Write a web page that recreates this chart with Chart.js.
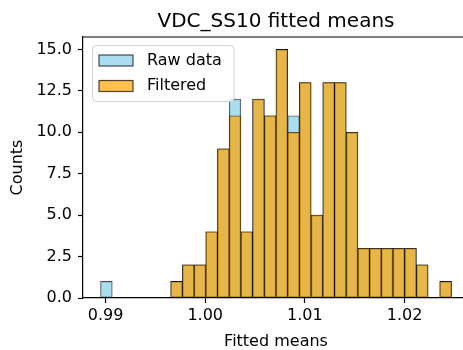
<!DOCTYPE html>
<html>
<head>
<meta charset="utf-8">
<script src="https://cdn.jsdelivr.net/npm/chart.js@4"></script>
<style>
  html, body { margin: 0; padding: 0; background: #fff; overflow: hidden; }
  #wrap { width: 463px; height: 350px; overflow: hidden; }
</style>
</head>
<body>
<div id="wrap"><canvas id="histChart" width="470" height="350"></canvas></div>
<script>
// histogram bins (numpy style: 30 equal bins between min and max)
const binStart = 0.98950;
const binWidth = 0.0011737;
const rawCounts = [1, 0, 0, 0, 0, 0, 1, 2, 2, 4, 9, 12, 4, 12, 11, 15, 11, 13, 5, 13, 13, 10, 3, 3, 3, 3, 3, 2, 0, 1];
const filteredCounts = [0, 0, 0, 0, 0, 0, 1, 2, 2, 4, 9, 11, 4, 12, 11, 15, 10, 13, 5, 13, 13, 10, 3, 3, 3, 3, 3, 2, 0, 1];
const seriesNames = ['Raw data', 'Filtered'];
const xTicks = [0.99, 1.00, 1.01, 1.02];
const yTicks = [0, 2.5, 5, 7.5, 10, 12.5, 15];

const family = "'DejaVu Sans', sans-serif";
const binCenters = rawCounts.map((_, i) => binStart + (i + 0.5) * binWidth);
const toPoints = counts => counts.map((c, i) => ({ x: binCenters[i], y: c }));

const framePlugin = {
    id: 'frame',
    afterDatasetsDraw(chart) {
        const { ctx, chartArea: a } = chart;
        ctx.save();
        // top spine (right one falls outside the cropped picture)
        ctx.strokeStyle = '#000';
        ctx.lineWidth = 1.2;
        ctx.beginPath();
        ctx.moveTo(a.left, a.top);
        ctx.lineTo(a.right, a.top);
        ctx.stroke();

        // legend box, upper left inside the axes
        const bx = 92.5, by = 45.5, bw = 141.5, bh = 56;
        ctx.beginPath();
        ctx.roundRect(bx, by, bw, bh, 4);
        ctx.fillStyle = 'rgba(255,255,255,0.8)';
        ctx.fill();
        ctx.strokeStyle = '#d0d0d0';
        ctx.lineWidth = 1;
        ctx.stroke();
        chart.data.datasets.forEach((ds, i) => {
            const py = 55 + i * 25.5;
            ctx.fillStyle = '#fff';
            ctx.fillRect(99, py, 34, 11);
            ctx.fillStyle = ds.backgroundColor;
            ctx.fillRect(99, py, 34, 11);
            ctx.strokeStyle = ds.borderColor;
            ctx.lineWidth = 1.2;
            ctx.strokeRect(99, py, 34, 11);
            ctx.fillStyle = '#000';
            ctx.font = '16px ' + family;
            ctx.textAlign = 'left';
            ctx.textBaseline = 'middle';
            ctx.fillText(ds.label, 147, py + 5.5);
        });

        // title centred over the axes
        ctx.font = '20px ' + family;
        ctx.textAlign = 'center';
        ctx.textBaseline = 'alphabetic';
        ctx.fillStyle = '#000';
        ctx.fillText('VDC_SS10 fitted means', (a.left + a.right) / 2, 26.6);
        ctx.restore();
    }
};

const ctx = document.getElementById('histChart').getContext('2d');
new Chart(ctx, {
    type: 'bar',
    data: {
        datasets: [{
            label: seriesNames[0],
            data: toPoints(rawCounts),
            backgroundColor: 'rgba(135, 206, 235, 0.7)',
            borderColor: 'rgba(0, 0, 0, 0.7)',
            borderWidth: 0.8,
            borderSkipped: false,
            order: 2
        }, {
            label: seriesNames[1],
            data: toPoints(filteredCounts),
            backgroundColor: 'rgba(255, 165, 0, 0.7)',
            borderColor: 'rgba(0, 0, 0, 0.7)',
            borderWidth: 0.8,
            borderSkipped: false,
            order: 1
        }]
    },
    options: {
        responsive: false,
        animation: false,
        layout: { padding: { top: 37, right: 1, left: 0, bottom: 0 } },
        datasets: { bar: { grouped: false, barPercentage: 1, categoryPercentage: 1 } },
        plugins: {
            legend: { display: false },
            tooltip: { enabled: false },
            title: { display: false }
        },
        scales: {
            x: {
                type: 'linear',
                min: 0.98774,
                max: 1.02647,
                offset: false,
                afterBuildTicks: s => { s.ticks = xTicks.map(v => ({ value: v })); },
                afterFit: s => { s.height = 52; },
                grid: { display: true, offset: false, drawOnChartArea: false, tickLength: 5, tickColor: '#000', tickWidth: 1.2 },
                border: { display: true, color: '#000', width: 1.2 },
                ticks: {
                    font: { family: family, size: 16 },
                    color: '#000',
                    padding: 3,
                    maxRotation: 0,
                    callback: v => v.toFixed(2)
                },
                title: {
                    display: true,
                    text: 'Fitted means',
                    color: '#000',
                    font: { family: family, size: 16, lineHeight: 1 },
                    padding: { top: 0, bottom: 0 }
                }
            },
            y: {
                min: 0,
                max: 15.75,
                afterBuildTicks: s => { s.ticks = yTicks.map(v => ({ value: v })); },
                afterFit: s => { s.width = 83; },
                grid: { display: true, drawOnChartArea: false, tickLength: 5, tickColor: '#000', tickWidth: 1.2 },
                border: { display: true, color: '#000', width: 1.2 },
                ticks: {
                    font: { family: family, size: 16 },
                    color: '#000',
                    padding: 6,
                    callback: v => v.toFixed(1)
                },
                title: {
                    display: true,
                    text: 'Counts',
                    color: '#000',
                    font: { family: family, size: 16, lineHeight: 1 },
                    padding: { top: 10, bottom: 0 }
                }
            }
        }
    },
    plugins: [framePlugin]
});
</script>
</body>
</html>
